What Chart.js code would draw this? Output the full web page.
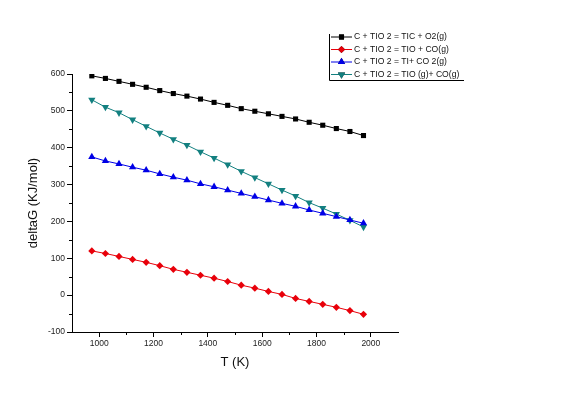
<!DOCTYPE html>
<html>
<head>
<meta charset="utf-8">
<script src="https://cdn.jsdelivr.net/npm/chart.js@4"></script>
<style>
  html, body { margin: 0; padding: 0; background: #fff; }
  #wrap { width: 563px; height: 394px; }
</style>
</head>
<body>
<div id="wrap"><canvas id="gibbsChart" width="563" height="394"></canvas></div>
<script>
// temperatures (K)
const temps = [973, 1023, 1073, 1123, 1173, 1223, 1273, 1323, 1373, 1423, 1473,
               1523, 1573, 1623, 1673, 1723, 1773, 1823, 1873, 1923, 1973];

// deltaG (kJ/mol)
const ticVals = [595, 588, 580, 572, 564, 555, 547, 540, 532, 523, 515,
                 506, 499, 492, 485, 478, 469, 461, 452, 444, 433];
const tioVals = [120, 113, 105, 97, 89, 80, 70, 62, 54, 46, 37,
                 27, 19, 10, 2, -9, -17, -25, -33, -42, -52];
const tiVals = [375, 364, 356, 347, 339, 329, 320, 312, 302, 294, 285,
                276, 267, 258, 249, 241, 231, 222, 213, 204, 195];
const tiogVals = [530, 510, 495, 476, 458, 440, 423, 407, 389, 372, 354,
                  336, 319, 302, 285, 269, 251, 236, 220, 203, 185];

const seriesNames = [
  'C + TIO 2 = TIC + O2(g)',
  'C + TIO 2 = TIO + CO(g)',
  'C + TIO 2 = TI+ CO 2(g)',
  'C + TIO 2 = TIO (g)+ CO(g)'
];

function toPoints(vals) {
  return temps.map((t, i) => ({ x: t, y: vals[i] }));
}

// Origin-style minor ticks and legend
const originBits = {
  id: 'originBits',
  afterDraw(chart) {
    const ctx = chart.ctx;
    const xs = chart.scales.x, ys = chart.scales.y;
    const area = chart.chartArea;
    ctx.save();
    ctx.strokeStyle = '#000';
    ctx.lineWidth = 1;
    ctx.beginPath();
    for (let v = 1100; v <= 2000; v += 200) {
      const px = Math.round(xs.getPixelForValue(v)) + 0.5;
      ctx.moveTo(px, area.bottom);
      ctx.lineTo(px, area.bottom + 3);
    }
    for (let v = -50; v < 600; v += 100) {
      const py = Math.round(ys.getPixelForValue(v)) + 0.5;
      ctx.moveTo(area.left, py);
      ctx.lineTo(area.left - 3, py);
    }
    ctx.stroke();

    // legend
    const lx = 329.5, top = 34, bottom = 80.5, right = 464;
    ctx.beginPath();
    ctx.moveTo(lx, top);
    ctx.lineTo(lx, bottom);
    ctx.lineTo(right, bottom);
    ctx.stroke();
    ctx.font = '8.6px "Liberation Sans", Arial, sans-serif';
    ctx.textBaseline = 'middle';
    ctx.textAlign = 'left';
    chart.data.datasets.forEach((ds, i) => {
      const y = 37 + i * 12.5;
      ctx.strokeStyle = ds.borderColor;
      ctx.beginPath();
      ctx.moveTo(331, y);
      ctx.lineTo(352, y);
      ctx.stroke();
      Chart.helpers.drawPoint(ctx, {
        pointStyle: ds.pointStyle,
        rotation: ds.rotation || 0,
        radius: ds.pointRadius,
        borderWidth: 0
      }, 341.5, y);
      ctx.fillStyle = ds.pointBackgroundColor;
      ctx.fill();
      ctx.fillStyle = '#111';
      ctx.fillText(ds.label, 354, y);
    });
    ctx.restore();
  }
};

function makeSet(i, vals, color, style, radius, rotation) {
  return {
    label: seriesNames[i],
    data: toPoints(vals),
    borderColor: color,
    backgroundColor: color,
    pointBackgroundColor: color,
    pointBorderColor: color,
    pointBorderWidth: 0,
    pointStyle: style,
    pointRadius: radius,
    rotation: rotation || 0,
    borderWidth: 1,
    tension: 0
  };
}

const ctx = document.getElementById('gibbsChart').getContext('2d');
const gibbsChart = new Chart(ctx, {
  type: 'line',
  data: {
    datasets: [
      makeSet(0, ticVals, '#000000', 'rect', 3.6),
      makeSet(1, tioVals, '#e8000a', 'rectRot', 3.6),
      makeSet(2, tiVals, '#0000e6', 'triangle', 4.2),
      makeSet(3, tiogVals, '#138080', 'triangle', 4.2, 180)
    ]
  },
  options: {
    responsive: false,
    animation: false,
    devicePixelRatio: 1,
    layout: { padding: { left: 0, top: 74, right: 165, bottom: 0 } },
    plugins: { legend: { display: false }, tooltip: { enabled: false } },
    scales: {
      x: {
        type: 'linear',
        min: 900,
        max: 2100,
        afterBuildTicks(scale) {
          scale.ticks = scale.ticks.filter(t => t.value % 200 === 0);
        },
        afterFit(scale) {
          scale.height = 62;
          scale.paddingLeft = 0;
          scale.paddingRight = 0;
        },
        ticks: {
          stepSize: 100,
          autoSkip: false,
          maxRotation: 0,
          padding: 2,
          color: '#222',
          callback: v => String(v),
          font: { family: '"Liberation Sans", Arial, sans-serif', size: 8.5 }
        },
        grid: { drawOnChartArea: false, drawTicks: true, tickLength: 5, color: '#000' },
        border: { display: true, color: '#000', width: 1 },
        title: {
          display: true,
          text: 'T (K)',
          color: '#111',
          padding: { top: 0, bottom: 24 },
          font: { family: '"Liberation Sans", Arial, sans-serif', size: 13 }
        }
      },
      y: {
        min: -100,
        max: 600,
        afterFit(scale) {
          scale.width = 72;
          scale.paddingTop = 0;
          scale.paddingBottom = 0;
        },
        ticks: {
          stepSize: 100,
          padding: 2,
          color: '#222',
          callback: v => String(v),
          font: { family: '"Liberation Sans", Arial, sans-serif', size: 8.5 }
        },
        grid: { drawOnChartArea: false, drawTicks: true, tickLength: 5, color: '#000' },
        border: { display: true, color: '#000', width: 1 },
        title: {
          display: true,
          text: 'deltaG (KJ/mol)',
          color: '#111',
          padding: { top: 26, bottom: 0 },
          font: { family: '"Liberation Sans", Arial, sans-serif', size: 13 }
        }
      }
    }
  },
  plugins: [originBits]
});
</script>
</body>
</html>
